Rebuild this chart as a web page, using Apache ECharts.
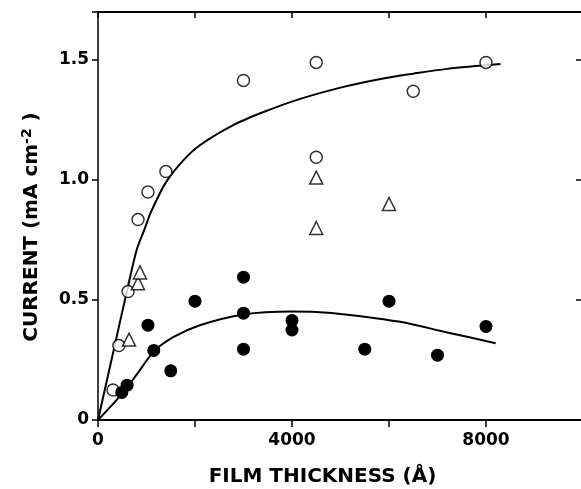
<!DOCTYPE html>
<html><head><meta charset="utf-8">
<script src="https://cdn.jsdelivr.net/npm/echarts@6/dist/echarts.min.js"></script>
<style>html,body{margin:0;padding:0;background:#fff}#c{width:581px;height:489px}</style>
</head><body><div id="c"></div>
<script>
// Open circles: [thickness (Å), current (mA cm^-2)]
var openCircles = [[310,0.125],[430,0.31],[620,0.535],[825,0.835],[1030,0.95],[1400,1.035],[3000,1.415],[4500,1.49],[6500,1.37],[8000,1.49],[4500,1.095]];
// Open triangles
var triangles = [[640,0.335],[825,0.57],[865,0.615],[4500,1.01],[4500,0.80],[6000,0.90]];
// Filled circles
var filledCircles = [[490,0.115],[600,0.145],[1030,0.395],[1150,0.29],[1500,0.205],[2000,0.495],[3000,0.595],[3000,0.445],[3000,0.295],[4000,0.415],[4000,0.375],[5500,0.295],[6000,0.495],[7000,0.27],[8000,0.39]];
// Fitted curves
var upperCurve = [[0,0],[300,0.27],[600,0.54],[800,0.71],[950,0.79],[1100,0.87],[1400,0.99],[1750,1.08],[2100,1.145],[2800,1.23],[3500,1.29],[4200,1.34],[5000,1.385],[5800,1.42],[6500,1.443],[7200,1.463],[8300,1.483]];
var lowerCurve = [[0,0],[500,0.11],[800,0.19],[1150,0.285],[1550,0.345],[2100,0.395],[3000,0.44],[4000,0.452],[4500,0.45],[5100,0.44],[6200,0.41],[7200,0.365],[8200,0.32]];
var xLabels = {0:'0',4000:'4000',8000:'8000'};
var yLabels = {0:'0',0.5:'0.5',1:'1.0',1.5:'1.5'};

var font = 'DejaVu Sans';
var chart = echarts.init(document.getElementById('c'));
var lab = {fontFamily:font,fontWeight:'bold',fontSize:17,color:'#000'};
chart.setOption({
  animation:false,
  grid:{left:98,top:12,right:-2,bottom:69,outerBoundsMode:'none',containLabel:false},
  xAxis:[{
    type:'value',min:0,max:10000,interval:2000,
    axisLine:{onZero:false,lineStyle:{color:'#000',width:2}},
    axisTick:{show:true,inside:false,length:7,lineStyle:{color:'#000',width:1.5}},
    axisLabel:Object.assign({margin:12,formatter:function(v){return xLabels[v]||'';}},lab),
    splitLine:{show:false},
    name:'FILM THICKNESS (Å)',nameLocation:'middle',nameGap:47,
    nameTextStyle:{fontFamily:font,fontWeight:'bold',fontSize:20,color:'#000',padding:[0,36,0,0]}
  },{
    type:'value',position:'top',min:0,max:10000,interval:2000,
    axisLine:{onZero:false,lineStyle:{color:'#000',width:2}},
    axisTick:{show:true,inside:true,length:6,lineStyle:{color:'#000',width:1.5}},
    axisLabel:{show:false},splitLine:{show:false}
  }],
  yAxis:[{
    type:'value',min:0,max:1.7,interval:0.5,
    axisLine:{show:true,onZero:false,lineStyle:{color:'#000',width:1.5}},
    axisTick:{show:true,inside:false,length:6,lineStyle:{color:'#000',width:1.5}},
    axisLabel:Object.assign({margin:9,formatter:function(v){return yLabels[v]!==undefined?yLabels[v]:'';}},lab),
    splitLine:{show:false},
    name:'CURRENT (mA cm{sup|-2} )',nameLocation:'middle',nameGap:54,nameRotate:90,
    nameTextStyle:{fontFamily:font,fontWeight:'bold',fontSize:20,color:'#000',padding:[0,22,0,0],
      rich:{sup:{fontFamily:font,fontWeight:'bold',fontSize:14,color:'#000',verticalAlign:'top',padding:[0,0,10,0]}}}
  },{
    type:'value',position:'right',min:0,max:1.7,interval:0.5,
    axisLine:{show:true,onZero:false,lineStyle:{color:'#000',width:2}},
    axisTick:{show:true,inside:true,length:7,lineStyle:{color:'#000',width:1.5}},
    axisLabel:{show:false},splitLine:{show:false}
  }],
  series:[
    {type:'line',data:upperCurve,smooth:0.3,symbol:'none',lineStyle:{color:'#000',width:2},z:1},
    {type:'line',data:lowerCurve,smooth:0.3,symbol:'none',lineStyle:{color:'#000',width:2},z:1},
    {type:'scatter',data:openCircles,symbol:'circle',symbolSize:12,itemStyle:{color:'#fff',borderColor:'#000',borderWidth:1.5},z:3},
    {type:'scatter',data:triangles,symbol:'triangle',symbolSize:13,itemStyle:{color:'#fff',borderColor:'#000',borderWidth:1.5},z:3},
    {type:'scatter',data:filledCircles,symbol:'circle',symbolSize:13,itemStyle:{color:'#000',opacity:1},z:4}
  ]
});
</script></body></html>
